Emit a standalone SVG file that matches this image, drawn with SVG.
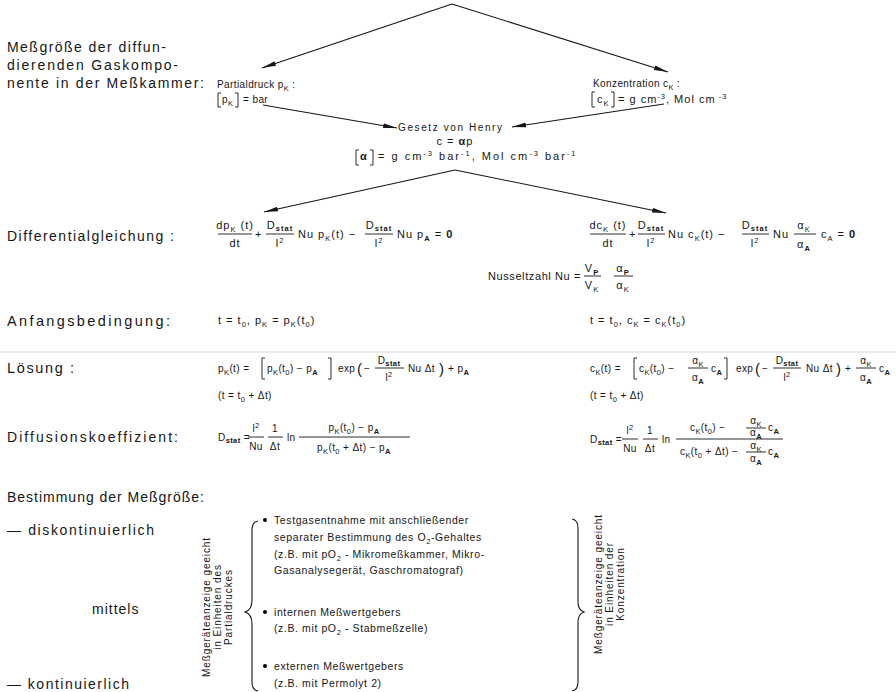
<svg xmlns="http://www.w3.org/2000/svg" width="896" height="692" viewBox="0 0 896 692">
<defs>
<style>
text{font-family:"Liberation Sans",Arial,sans-serif;fill:#161616}
.lbl{font-size:14px;letter-spacing:1px}
.f{font-size:10px;letter-spacing:0.4px}
.fw{font-size:11px;letter-spacing:1px}
.s{font-size:7.5px}
.b{font-weight:bold}
.sm{font-size:10.5px;letter-spacing:0.6px}
.rot{font-size:10px;letter-spacing:0.9px}
.bar{stroke:#161616;stroke-width:0.9;fill:none}
.con{stroke:#161616;stroke-width:1.1;fill:none}
.br{stroke:#161616;stroke-width:1.1;fill:none}
</style>
<marker id="ah" viewBox="0 0 14 6" refX="14" refY="3" markerWidth="14" markerHeight="6" markerUnits="userSpaceOnUse" orient="auto">
<path d="M0,0.6 L14,3 L0,5.4 z" fill="#161616"/>
</marker>
</defs>
<rect width="896" height="692" fill="#fff"/>
<line x1="0" y1="352" x2="896" y2="352" stroke="#d8d8d8" stroke-width="1"/>

<g id="labels" class="lbl">
<text x="7" y="52" textLength="160">Meßgröße der diffun-</text>
<text x="7" y="70" textLength="172">dierenden Gaskompo-</text>
<text x="7" y="88" textLength="198">nente in der Meßkammer:</text>
<text x="7" y="241" textLength="168">Differentialgleichung :</text>
<text x="7" y="326" font-size="14.5" textLength="164">Anfangsbedingung:</text>
<text x="7" y="373" font-size="14.5" textLength="68">Lösung :</text>
<text x="7" y="442" textLength="172">Diffusionskoeffizient:</text>
<text x="7" y="502" textLength="198">Bestimmung der Meßgröße:</text>
<text x="7" y="535" textLength="148">— diskontinuierlich</text>
<text x="92" y="614">mittels</text>
<text x="7" y="689" textLength="123">— kontinuierlich</text>
</g>

<g id="connectors">
<path class="con" d="M452,4 L262,68" marker-end="url(#ah)"/>
<path class="con" d="M452,4 L668,72" marker-end="url(#ah)"/>
<path class="con" d="M263,105 L397,128" marker-end="url(#ah)"/>
<path class="con" d="M664,104 L512,127" marker-end="url(#ah)"/>
<path class="con" d="M455,170 L264,212" marker-end="url(#ah)"/>
<path class="con" d="M455,170 L666,213" marker-end="url(#ah)"/>
</g>

<g id="n-partialdruck" class="f">
<text x="217" y="88">Partialdruck  p<tspan class="s" dy="2.5">K</tspan><tspan dy="-2.5"> :</tspan></text>
<path class="bar" d="M221,93 H218 V107 H221 M235,93 H238 V107 H235"/>
<text x="222" y="103">p<tspan class="s" dy="2.5">K</tspan></text>
<text x="243" y="103">= bar</text>
</g>

<g id="n-konzentration">
<text class="f" x="593" y="87" letter-spacing="1">Konzentration  c<tspan class="s" dy="2.5">K</tspan><tspan dy="-2.5"> :</tspan></text>
<path class="bar" d="M595,92 H592 V107 H595 M611,92 H614 V107 H611"/>
<text class="fw" x="597" y="103">c<tspan class="s" dy="2.5">K</tspan></text>
<text class="fw" x="618" y="103">= g cm<tspan class="s" dy="-4">-3</tspan><tspan dy="4">,  Mol cm</tspan><tspan class="s" dy="-4"> -3</tspan></text>
</g>

<g id="n-henry" class="fw">
<text x="398" y="131" font-size="10" letter-spacing="1.6">Gesetz von Henry</text>
<text x="455" y="145" text-anchor="middle">c = <tspan class="b">α</tspan>p</text>
<path class="bar" d="M359,150 H356 V165 H359 M370,150 H373 V165 H370"/>
<text x="360" y="160" class="b">α</text>
<text x="378" y="160" letter-spacing="2">= g cm<tspan class="s" dy="-4">-3</tspan><tspan dy="4">  bar</tspan><tspan class="s" dy="-4">-1</tspan><tspan dy="4">, Mol  cm</tspan><tspan class="s" dy="-4">-3</tspan><tspan dy="4">  bar</tspan><tspan class="s" dy="-4">-1</tspan></text>
</g>

<g id="n-diff-p" class="fw">
<text x="235" y="229" text-anchor="middle">dp<tspan class="s" dy="2.5">K</tspan><tspan dy="-2.5"> (t)</tspan></text>
<line class="bar" x1="218" y1="234" x2="252" y2="234"/>
<text x="235" y="247" text-anchor="middle">dt</text>
<text x="255" y="238">+</text>
<text x="280" y="229" text-anchor="middle">D<tspan class="s b" dy="2">stat</tspan></text>
<line class="bar" x1="266" y1="234" x2="294" y2="234"/>
<text x="280" y="247" text-anchor="middle">l<tspan class="s" dy="-4">2</tspan></text>
<text x="298" y="238">Nu  p<tspan class="s" dy="2.5">K</tspan><tspan dy="-2.5">(t) −</tspan></text>
<text x="379" y="229" text-anchor="middle">D<tspan class="s b" dy="2">stat</tspan></text>
<line class="bar" x1="365" y1="234" x2="393" y2="234"/>
<text x="379" y="247" text-anchor="middle">l<tspan class="s" dy="-4">2</tspan></text>
<text x="397" y="238">Nu p<tspan class="s b" dy="2.5">A</tspan><tspan dy="-2.5">   =   </tspan><tspan class="b">0</tspan></text>
</g>

<g id="n-diff-c" class="fw">
<text x="608" y="229" text-anchor="middle">dc<tspan class="s" dy="2.5">K</tspan><tspan dy="-2.5"> (t)</tspan></text>
<line class="bar" x1="590" y1="234" x2="626" y2="234"/>
<text x="608" y="247" text-anchor="middle">dt</text>
<text x="629" y="238">+</text>
<text x="651" y="229" text-anchor="middle">D<tspan class="s b" dy="2">stat</tspan></text>
<line class="bar" x1="638" y1="234" x2="665" y2="234"/>
<text x="651" y="247" text-anchor="middle">l<tspan class="s" dy="-4">2</tspan></text>
<text x="668" y="238">Nu c<tspan class="s" dy="2.5">K</tspan><tspan dy="-2.5">(t) −</tspan></text>
<text x="755" y="229" text-anchor="middle">D<tspan class="s b" dy="2">stat</tspan></text>
<line class="bar" x1="742" y1="234" x2="769" y2="234"/>
<text x="755" y="247" text-anchor="middle">l<tspan class="s" dy="-4">2</tspan></text>
<text x="773" y="238">Nu</text>
<text x="804" y="229" text-anchor="middle">α<tspan class="s" dy="2.5">K</tspan></text>
<line class="bar" x1="794" y1="234" x2="816" y2="234"/>
<text x="804" y="248" text-anchor="middle">α<tspan class="s b" dy="2.5">A</tspan></text>
<text x="821" y="238">c<tspan class="s" dy="2.5">A</tspan><tspan dy="-2.5"> =  </tspan><tspan class="b">0</tspan></text>
</g>

<g id="n-nusselt" class="fw">
<text x="581" y="280" text-anchor="end" letter-spacing="0.6">Nusseltzahl  Nu =</text>
<text x="592" y="272" text-anchor="middle">V<tspan class="s b" dy="2.5">P</tspan></text>
<line class="bar" x1="584" y1="276" x2="601" y2="276"/>
<text x="592" y="289" text-anchor="middle">V<tspan class="s" dy="2.5">K</tspan></text>
<text x="623" y="272" text-anchor="middle">α<tspan class="s b" dy="2.5">P</tspan></text>
<line class="bar" x1="614" y1="276" x2="633" y2="276"/>
<text x="623" y="289" text-anchor="middle">α<tspan class="s" dy="2.5">K</tspan></text>
</g>

<g id="n-anfang-p" class="fw">
<text x="218" y="324">t = t<tspan class="s" dy="2.5">0</tspan><tspan dy="-2.5">,  p</tspan><tspan class="s" dy="2.5">K</tspan><tspan dy="-2.5"> = p</tspan><tspan class="s" dy="2.5">K</tspan><tspan dy="-2.5">(t</tspan><tspan class="s" dy="2.5">0</tspan><tspan dy="-2.5">)</tspan></text>
</g>
<g id="n-anfang-c" class="fw">
<text x="590" y="324">t = t<tspan class="s" dy="2.5">0</tspan><tspan dy="-2.5">,  c</tspan><tspan class="s" dy="2.5">K</tspan><tspan dy="-2.5"> = c</tspan><tspan class="s" dy="2.5">K</tspan><tspan dy="-2.5">(t</tspan><tspan class="s" dy="2.5">0</tspan><tspan dy="-2.5">)</tspan></text>
</g>

<g id="n-loesung-p" class="f">
<text x="218" y="372">p<tspan class="s" dy="2.5">K</tspan><tspan dy="-2.5">(t) =</tspan></text>
<path class="bar" d="M265,358 H262 V379 H265 M328,358 H331 V379 H328"/>
<text x="267" y="372">p<tspan class="s" dy="2.5">K</tspan><tspan dy="-2.5">(t</tspan><tspan class="s" dy="2.5">0</tspan><tspan dy="-2.5">) − p</tspan><tspan class="s b" dy="2.5">A</tspan></text>
<text x="338" y="372">exp</text>
<text x="357" y="374" font-size="15">(</text>
<text x="364" y="372">−</text>
<text x="389" y="364" text-anchor="middle">D<tspan class="s b" dy="2">stat</tspan></text>
<line class="bar" x1="375" y1="368" x2="404" y2="368"/>
<text x="389" y="381" text-anchor="middle">l<tspan class="s" dy="-4">2</tspan></text>
<text x="408" y="372">Nu Δt</text>
<text x="439" y="374" font-size="15">)</text>
<text x="448" y="372">+ p<tspan class="s b" dy="2.5">A</tspan></text>
<text x="218" y="399">(t = t<tspan class="s" dy="2.5">0</tspan><tspan dy="-2.5"> + Δt)</tspan></text>
</g>

<g id="n-loesung-c" class="f">
<text x="590" y="372">c<tspan class="s" dy="2.5">K</tspan><tspan dy="-2.5">(t) =</tspan></text>
<path class="bar" d="M637,358 H634 V379 H637 M724,358 H727 V379 H724"/>
<text x="639" y="372">c<tspan class="s" dy="2.5">K</tspan><tspan dy="-2.5">(t</tspan><tspan class="s" dy="2.5">0</tspan><tspan dy="-2.5">) −</tspan></text>
<text x="698" y="364" text-anchor="middle">α<tspan class="s" dy="2.5">K</tspan></text>
<line class="bar" x1="688" y1="368" x2="708" y2="368"/>
<text x="698" y="381" text-anchor="middle">α<tspan class="s b" dy="2.5">A</tspan></text>
<text x="711" y="372">c<tspan class="s b" dy="2.5">A</tspan></text>
<text x="736" y="372">exp</text>
<text x="755" y="374" font-size="15">(</text>
<text x="762" y="372">−</text>
<text x="787" y="364" text-anchor="middle">D<tspan class="s b" dy="2">stat</tspan></text>
<line class="bar" x1="773" y1="368" x2="801" y2="368"/>
<text x="787" y="381" text-anchor="middle">l<tspan class="s" dy="-4">2</tspan></text>
<text x="806" y="372">Nu Δt</text>
<text x="836" y="374" font-size="15">)</text>
<text x="845" y="372">+</text>
<text x="866" y="364" text-anchor="middle">α<tspan class="s" dy="2.5">K</tspan></text>
<line class="bar" x1="856" y1="368" x2="876" y2="368"/>
<text x="866" y="381" text-anchor="middle">α<tspan class="s b" dy="2.5">A</tspan></text>
<text x="879" y="372">c<tspan class="s b" dy="2.5">A</tspan></text>
<text x="590" y="399">(t = t<tspan class="s" dy="2.5">0</tspan><tspan dy="-2.5"> + Δt)</tspan></text>
</g>

<g id="n-diffusion-p" class="f">
<text x="218" y="441">D<tspan class="s b" dy="2">stat</tspan><tspan dy="-2"> =</tspan></text>
<text x="256" y="432" text-anchor="middle">l<tspan class="s" dy="-4">2</tspan></text>
<line class="bar" x1="248" y1="437" x2="264" y2="437"/>
<text x="256" y="450" text-anchor="middle">Nu</text>
<text x="275" y="432" text-anchor="middle">1</text>
<line class="bar" x1="268" y1="437" x2="283" y2="437"/>
<text x="275" y="450" text-anchor="middle">Δt</text>
<text x="287" y="441">ln</text>
<text x="354" y="431" text-anchor="middle">p<tspan class="s" dy="2.5">K</tspan><tspan dy="-2.5">(t</tspan><tspan class="s" dy="2.5">0</tspan><tspan dy="-2.5">) − p</tspan><tspan class="s b" dy="2.5">A</tspan></text>
<line class="bar" x1="299" y1="437" x2="410" y2="437"/>
<text x="354" y="451" text-anchor="middle">p<tspan class="s" dy="2.5">K</tspan><tspan dy="-2.5">(t</tspan><tspan class="s" dy="2.5">0</tspan><tspan dy="-2.5"> + Δt) − p</tspan><tspan class="s b" dy="2.5">A</tspan></text>
</g>

<g id="n-diffusion-c" class="f">
<text x="590" y="443">D<tspan class="s b" dy="2">stat</tspan><tspan dy="-2"> =</tspan></text>
<text x="630" y="434" text-anchor="middle">l<tspan class="s" dy="-4">2</tspan></text>
<line class="bar" x1="622" y1="439" x2="638" y2="439"/>
<text x="630" y="452" text-anchor="middle">Nu</text>
<text x="650" y="434" text-anchor="middle">1</text>
<line class="bar" x1="643" y1="439" x2="658" y2="439"/>
<text x="650" y="452" text-anchor="middle">Δt</text>
<text x="662" y="443">ln</text>
<line class="bar" x1="676" y1="439" x2="783" y2="439"/>
<text x="690" y="431">c<tspan class="s" dy="2.5">K</tspan><tspan dy="-2.5">(t</tspan><tspan class="s" dy="2.5">0</tspan><tspan dy="-2.5">)  −</tspan></text>
<text x="756" y="424" text-anchor="middle">α<tspan class="s" dy="2.5">K</tspan></text>
<line class="bar" x1="746" y1="428" x2="766" y2="428"/>
<text x="756" y="436" text-anchor="middle">α<tspan class="s b" dy="2.5">A</tspan></text>
<text x="768" y="431">c<tspan class="s b" dy="2.5">A</tspan></text>
<text x="680" y="455">c<tspan class="s" dy="2.5">K</tspan><tspan dy="-2.5">(t</tspan><tspan class="s" dy="2.5">0</tspan><tspan dy="-2.5"> + Δt) −</tspan></text>
<text x="756" y="449" text-anchor="middle">α<tspan class="s" dy="2.5">K</tspan></text>
<line class="bar" x1="746" y1="452" x2="766" y2="452"/>
<text x="756" y="462" text-anchor="middle">α<tspan class="s b" dy="2.5">A</tspan></text>
<text x="768" y="455">c<tspan class="s b" dy="2.5">A</tspan></text>
</g>

<g id="n-eich-p" class="rot">
<text transform="translate(210,607) rotate(-90)" text-anchor="middle">Meßgeräteanzeige geeicht</text>
<text transform="translate(221,607) rotate(-90)" text-anchor="middle">in Einheiten des</text>
<text transform="translate(232,607) rotate(-90)" text-anchor="middle">Partialdruckes</text>
</g>

<g id="n-brace-left">
<path class="br" d="M258,521 Q252,522 252,530 V600 Q252,610 245,612 Q252,614 252,624 V682 Q252,690 258,691"/>
</g>

<g id="n-methoden" class="sm">
<circle cx="265" cy="520" r="2"/>
<text x="274" y="524">Testgasentnahme mit anschließender</text>
<text x="274" y="541">separater  Bestimmung des O<tspan class="s" dy="2.5">2</tspan><tspan dy="-2.5">-Gehaltes</tspan></text>
<text x="274" y="558">(z.B. mit pO<tspan class="s" dy="2.5">2</tspan><tspan dy="-2.5"> - Mikromeßkammer, Mikro-</tspan></text>
<text x="274" y="574">Gasanalysegerät, Gaschromatograf)</text>
<circle cx="265" cy="612" r="2"/>
<text x="274" y="616">internen Meßwertgebers</text>
<text x="274" y="632">(z.B. mit pO<tspan class="s" dy="2.5">2</tspan><tspan dy="-2.5"> - Stabmeßzelle)</tspan></text>
<circle cx="265" cy="666" r="2"/>
<text x="274" y="670">externen Meßwertgebers</text>
<text x="274" y="687">(z.B. mit  Permolyt 2)</text>
</g>

<g id="n-brace-right">
<path class="br" d="M572,519 Q578,520 578,528 V602 Q578,610 584,612 Q578,614 578,622 V682 Q578,690 572,691"/>
</g>

<g id="n-eich-c" class="rot">
<text transform="translate(602,584) rotate(-90)" text-anchor="middle">Meßgeräteanzeige geeicht</text>
<text transform="translate(613,584) rotate(-90)" text-anchor="middle">in Einheiten der</text>
<text transform="translate(624,584) rotate(-90)" text-anchor="middle">Konzentration</text>
</g>
</svg>
